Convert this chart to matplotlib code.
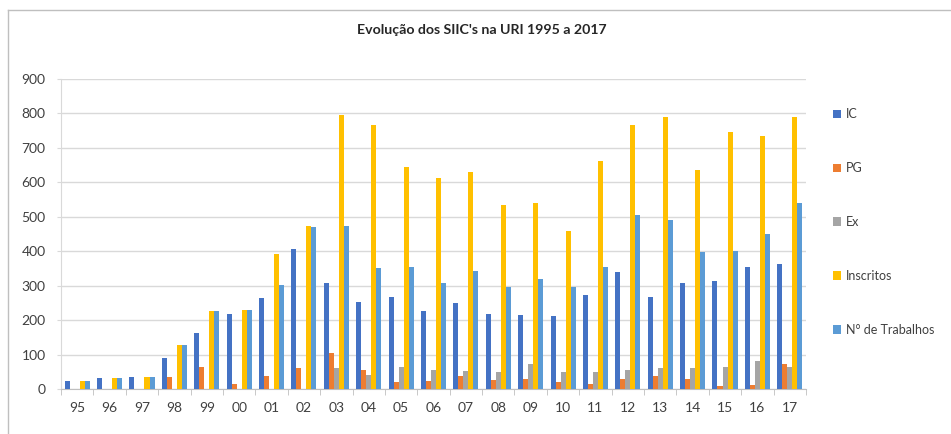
import numpy as np
import matplotlib
matplotlib.use('Agg')
import matplotlib.pyplot as plt
from matplotlib.lines import Line2D

plt.rcParams['font.family'] = ['Lato', 'DejaVu Sans']

anos = ['95', '96', '97', '98', '99', '00', '01', '02', '03', '04', '05', '06',
        '07', '08', '09', '10', '11', '12', '13', '14', '15', '16', '17']
ic = [22, 32, 35, 90, 163, 219, 264, 405, 307, 252, 267, 227,
      250, 218, 214, 212, 273, 339, 267, 308, 313, 354, 363]
pg = [0, 0, 0, 35, 63, 15, 37, 62, 104, 54, 20, 23,
      39, 27, 30, 20, 15, 30, 39, 30, 10, 13, 74]
ex = [0, 0, 0, 0, 0, 0, 0, 0, 60, 41, 65, 56,
      53, 50, 74, 48, 50, 56, 62, 62, 64, 80, 64]
inscritos = [22, 32, 35, 128, 227, 228, 392, 472, 796, 765, 644, 612,
             630, 533, 540, 459, 663, 765, 791, 636, 746, 735, 789]
trabalhos = [22, 32, 35, 128, 227, 228, 302, 470, 473, 350, 354, 307,
             343, 296, 320, 297, 355, 504, 492, 399, 402, 449, 540]

series = [('IC', ic, '#4472C4'),
          ('PG', pg, '#ED7D31'),
          ('Ex', ex, '#A5A5A5'),
          ('Inscritos', inscritos, '#FFC000'),
          ('N° de Trabalhos', trabalhos, '#5B9BD5')]

fig = plt.figure(figsize=(9.51, 4.34), dpi=100)
ax = fig.add_axes([61 / 951, 45 / 434, 745 / 951, 310 / 434])

x = np.arange(len(anos))
w = 0.155
for i, (nome, vals, cor) in enumerate(series):
    ax.bar(x + (i - 2) * w, vals, w, color=cor, label=nome, zorder=3)

ax.set_xlim(-0.5, len(anos) - 0.5)
ax.set_ylim(0, 900)
ax.set_yticks(range(0, 901, 100))
ax.set_xticks(x)
ax.set_xticklabels(anos)
ax.set_xticks(np.arange(-0.5, len(anos), 1), minor=True)

ax.grid(axis='y', color='#D9D9D9', lw=1, zorder=0)
for s in ['top', 'right']:
    ax.spines[s].set_visible(False)
ax.spines['left'].set_color('#D9D9D9')
ax.spines['bottom'].set_color('#BFBFBF')
ax.tick_params(axis='x', which='major', length=0, pad=9, labelsize=10, colors='#404040')
ax.tick_params(axis='x', which='minor', length=4, color='#BFBFBF')
ax.tick_params(axis='y', length=3, color='#D9D9D9', pad=8, labelsize=10, colors='#404040')

fig.text(482 / 951, 1 - 30 / 434, "Evolução dos SIIC's na URI 1995 a 2017",
         ha='center', va='center', fontsize=10.2, fontweight='bold', color='#262626')

leg = fig.legend(loc='upper left', bbox_to_anchor=(822 / 951, 1 - 97 / 434),
                 frameon=False, fontsize=9, handlelength=0.65, handleheight=0.65,
                 handletextpad=0.35, labelspacing=3.35, labelcolor='#404040')

# borda da área do gráfico
fig.add_artist(Line2D([7.5 / 951, 7.5 / 951], [0, 1 - 10 / 434], color='#BFBFBF', lw=1))
fig.add_artist(Line2D([7.5 / 951, 1], [1 - 10 / 434, 1 - 10 / 434], color='#BFBFBF', lw=1))

fig.savefig('out.png', dpi=100)
